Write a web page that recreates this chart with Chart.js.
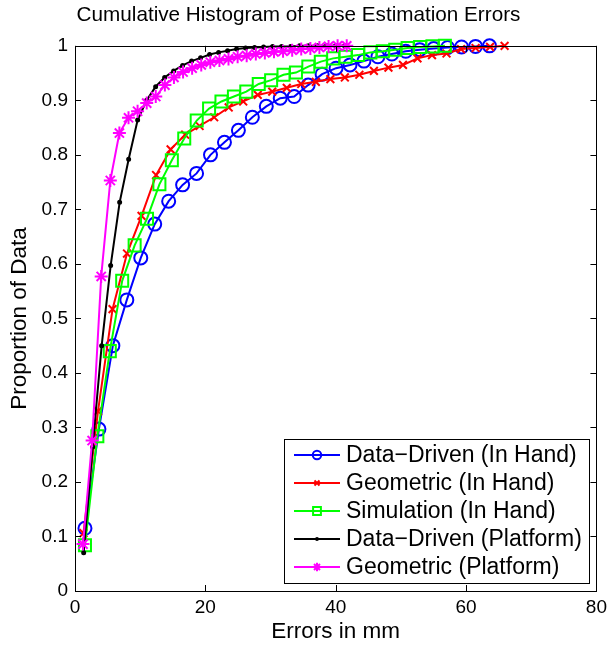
<!DOCTYPE html>
<html>
<head>
<meta charset="utf-8">
<script src="https://cdn.jsdelivr.net/npm/chart.js@4.4.0/dist/chart.umd.min.js"></script>
<style>
html, body { margin: 0; padding: 0; background: #fff; }
</style>
</head>
<body>
<canvas id="c" width="612" height="648"></canvas>
<script>
// values (errors in mm -> proportion)
const seriesNames = [
    "Data\u2212Driven (In Hand)",
    "Geometric (In Hand)",
    "Simulation (In Hand)",
    "Data\u2212Driven (Platform)",
    "Geometric (Platform)"
];

const ddHandX = [1.53, 3.67, 5.81, 7.95, 10.09, 12.23, 14.37, 16.51, 18.65, 20.79, 22.93, 25.07, 27.21, 29.35, 31.49,
    33.63, 35.77, 37.91, 40.05, 42.19, 44.33, 46.47, 48.61, 50.75, 52.89, 55.03, 57.17, 59.31, 61.45, 63.59];
const ddHandY = [0.115, 0.297, 0.450, 0.534, 0.611, 0.673, 0.715, 0.745, 0.766, 0.800, 0.823, 0.845, 0.869, 0.889, 0.904,
    0.907, 0.928, 0.948, 0.959, 0.965, 0.972, 0.980, 0.985, 0.990, 0.993, 0.995, 0.997, 0.998, 0.999, 1.0];

const geoHandX = [1.3, 3.53, 5.76, 7.98, 10.21, 12.44, 14.67, 16.9, 19.12, 21.35, 23.58, 25.81, 28.04, 30.26, 32.49,
    34.72, 36.95, 39.18, 41.4, 43.63, 45.86, 48.09, 50.32, 52.54, 54.77, 57.0, 59.23, 61.46, 63.68, 65.91];
const geoHandY = [0.106, 0.33, 0.517, 0.619, 0.688, 0.763, 0.810, 0.837, 0.853, 0.869, 0.887, 0.898, 0.910, 0.916, 0.923,
    0.930, 0.934, 0.939, 0.942, 0.947, 0.954, 0.960, 0.965, 0.977, 0.983, 0.986, 0.994, 0.996, 0.998, 1.0];

const simHandX = [1.53, 3.43, 5.34, 7.24, 9.15, 11.05, 12.95, 14.86, 16.76, 18.67, 20.57, 22.47, 24.38, 26.28, 28.19,
    30.09, 31.99, 33.9, 35.8, 37.71, 39.61, 41.51, 43.42, 45.32, 47.23, 49.13, 51.03, 52.94, 54.84, 56.75];
const simHandY = [0.084, 0.284, 0.440, 0.569, 0.634, 0.683, 0.746, 0.790, 0.830, 0.863, 0.885, 0.898, 0.907, 0.916, 0.930,
    0.937, 0.947, 0.951, 0.962, 0.971, 0.977, 0.980, 0.983, 0.988, 0.990, 0.993, 0.996, 0.998, 0.999, 1.0];

const ddPlatX = [1.33, 2.71, 4.09, 5.47, 6.85, 8.23, 9.61, 10.99, 12.37, 13.75, 15.13, 16.51, 17.89, 19.27, 20.65,
    22.03, 23.41, 24.79, 26.17, 27.55, 28.93, 30.31, 31.69, 33.07, 34.45, 35.83, 37.21, 38.59, 39.97, 41.35];
const ddPlatY = [0.070, 0.264, 0.450, 0.597, 0.713, 0.792, 0.864, 0.900, 0.925, 0.942, 0.954, 0.964, 0.972, 0.978, 0.984,
    0.988, 0.991, 0.994, 0.996, 0.997, 0.998, 0.999, 0.999, 0.999, 1.0, 1.0, 1.0, 1.0, 1.0, 1.0];

const geoPlatX = [1.23, 2.63, 4.02, 5.42, 6.81, 8.21, 9.6, 11.0, 12.39, 13.79, 15.18, 16.58, 17.97, 19.37, 20.76,
    22.16, 23.55, 24.95, 26.34, 27.74, 29.13, 30.53, 31.92, 33.32, 34.71, 36.11, 37.5, 38.9, 40.29, 41.69];
const geoPlatY = [0.086, 0.276, 0.577, 0.753, 0.840, 0.868, 0.880, 0.895, 0.907, 0.928, 0.942, 0.952, 0.959, 0.965, 0.970,
    0.973, 0.976, 0.980, 0.982, 0.985, 0.987, 0.989, 0.990, 0.992, 0.994, 0.995, 0.997, 0.999, 1.0, 1.0];

const xTickLabels = ["0", "20", "40", "60", "80"];
const yTickLabels = ["0", "0.1", "0.2", "0.3", "0.4", "0.5", "0.6", "0.7", "0.8", "0.9", "1"];

function pts(xs, ys) {
    return xs.map((x, i) => ({x: x, y: ys[i]}));
}

function series(label, xs, ys, color, style, radius, order, fill) {
    return {
        label: label,
        data: pts(xs, ys),
        showLine: true,
        borderColor: color,
        borderWidth: 2,
        pointStyle: style,
        pointRadius: radius,
        pointHoverRadius: radius,
        pointBorderColor: color,
        pointBackgroundColor: fill || 'rgba(0,0,0,0)',
        pointBorderWidth: 2,
        order: order,
        clip: false
    };
}

Chart.defaults.font.family = "'Liberation Sans', Arial, Helvetica, sans-serif";
Chart.defaults.color = '#000';

// matlab style box with inward ticks on all four sides
const boxFrame = {
    id: 'boxFrame',
    afterDraw(chart) {
        const ctx = chart.ctx;
        const a = chart.chartArea;
        const xs = chart.scales.x, ys = chart.scales.y;
        const tl = 6;
        ctx.save();
        ctx.strokeStyle = '#000';
        ctx.lineWidth = 1;
        ctx.strokeRect(Math.round(a.left) + 0.5, Math.round(a.top) + 0.5,
            Math.round(a.right - a.left), Math.round(a.bottom - a.top));
        ctx.beginPath();
        xs.ticks.forEach(t => {
            const px = Math.round(xs.getPixelForValue(t.value)) + 0.5;
            ctx.moveTo(px, a.bottom); ctx.lineTo(px, a.bottom - tl);
            ctx.moveTo(px, a.top); ctx.lineTo(px, a.top + tl);
        });
        ys.ticks.forEach(t => {
            const py = Math.round(ys.getPixelForValue(t.value)) + 0.5;
            ctx.moveTo(a.left, py); ctx.lineTo(a.left + tl, py);
            ctx.moveTo(a.right, py); ctx.lineTo(a.right - tl, py);
        });
        ctx.stroke();
        ctx.restore();
    }
};

const boxLegend = {
    id: 'boxLegend',
    afterDraw(chart) {
        const ctx = chart.ctx;
        const a = chart.chartArea;
        const w = 305, h = 144, rowH = 28;
        const x0 = Math.round(a.right - 7 - w), y0 = Math.round(a.bottom - 8 - h);
        ctx.save();
        ctx.fillStyle = '#fff';
        ctx.fillRect(x0, y0, w, h);
        ctx.strokeStyle = '#000';
        ctx.lineWidth = 1;
        ctx.strokeRect(x0 + 0.5, y0 + 0.5, w, h);
        ctx.font = "23px 'Liberation Sans', Arial, sans-serif";
        ctx.textBaseline = 'middle';
        chart.data.datasets.forEach((ds, i) => {
            const y = y0 + 16 + i * rowH;
            ctx.strokeStyle = ds.borderColor;
            ctx.lineWidth = ds.borderWidth;
            ctx.beginPath();
            ctx.moveTo(x0 + 10, y);
            ctx.lineTo(x0 + 56, y);
            ctx.stroke();
            ctx.fillStyle = ds.pointBackgroundColor;
            ctx.lineWidth = ds.pointBorderWidth;
            Chart.helpers.drawPoint(ctx, {
                pointStyle: ds.pointStyle,
                radius: ds.pointRadius * 0.65,
                rotation: 0,
                borderWidth: ds.pointBorderWidth
            }, x0 + 33, y);
            ctx.fillStyle = '#000';
            ctx.fillText(ds.label, x0 + 62, y + 1);
        });
        ctx.restore();
    }
};

new Chart(document.getElementById('c'), {
    type: 'scatter',
    data: {
        datasets: [
            series(seriesNames[0], ddHandX, ddHandY, '#0000ff', 'circle', 6.5, 5),
            series(seriesNames[1], geoHandX, geoHandY, '#ff0000', 'crossRot', 5.5, 4),
            series(seriesNames[2], simHandX, simHandY, '#00ff00', 'rect', 8.5, 3),
            series(seriesNames[3], ddPlatX, ddPlatY, '#000000', 'circle', 1.5, 2, '#000000'),
            series(seriesNames[4], geoPlatX, geoPlatY, '#ff00ff', 'star', 6.5, 1)
        ]
    },
    options: {
        responsive: false,
        animation: false,
        layout: {
            padding: {left: 0, right: 15, top: 0, bottom: 0}
        },
        plugins: {
            legend: {display: false},
            tooltip: {enabled: false},
            title: {
                display: true,
                text: 'Cumulative Histogram of Pose Estimation Errors',
                color: '#000',
                font: {size: 20.7, weight: 'normal'},
                padding: {top: 3, bottom: 18}
            }
        },
        scales: {
            x: {
                type: 'linear',
                min: 0,
                max: 80,
                afterFit: s => { s.height = 57; },
                ticks: {
                    stepSize: 20,
                    padding: 5,
                    font: {size: 19},
                    color: '#000',
                    callback: v => xTickLabels[Math.round(v / 20)]
                },
                grid: {display: false, drawTicks: false},
                border: {display: false},
                title: {
                    display: true,
                    text: 'Errors in mm',
                    color: '#000',
                    font: {size: 22.5},
                    padding: {top: 0, bottom: 3}
                }
            },
            y: {
                type: 'linear',
                min: 0,
                max: 1,
                afterFit: s => { s.width = 75; },
                ticks: {
                    stepSize: 0.1,
                    padding: 7,
                    font: {size: 19},
                    color: '#000',
                    callback: v => yTickLabels[Math.round(v * 10)]
                },
                grid: {display: false, drawTicks: false},
                border: {display: false},
                title: {
                    display: true,
                    text: 'Proportion of Data',
                    color: '#000',
                    font: {size: 22.5},
                    padding: {top: 6, bottom: 0}
                }
            }
        }
    },
    plugins: [boxFrame, boxLegend]
});
</script>
</body>
</html>
